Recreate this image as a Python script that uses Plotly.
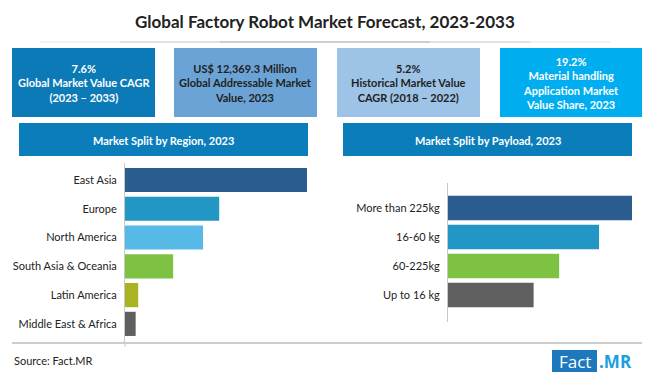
import plotly.graph_objects as go

W, H = 650, 377

title_text = "Global Factory Robot Market Forecast, 2023-2033"
kpi_texts = [
    "7.6%<br>Global Market Value CAGR<br>(2023 – 2033)",
    "US$ 12,369.3 Million<br>Global Addressable Market<br>Value, 2023",
    "5.2%<br>Historical Market Value<br>CAGR (2018 – 2022)",
    "19.2%<br>Material handling<br>Application Market<br>Value Share, 2023",
]
kpi_fill = ["#0B7AB6", "#6BA3D6", "#9DC3E6", "#00AEEF"]
kpi_font = ["#FFFFFF", "#1F1F1F", "#1F1F1F", "#FFFFFF"]

region_cats = ["East Asia", "Europe", "North America", "South Asia & Oceania",
               "Latin America", "Middle East & Africa"]
region_vals = [42.7, 22.1, 18.3, 11.3, 3.1, 2.5]
region_colors = ["#2B5C8F", "#2297C5", "#56B9E6", "#7DC242", "#AAB322", "#5F5F5F"]

payload_cats = ["More than 225kg", "16-60 kg", "60-225kg", "Up to 16 kg"]
payload_vals = [34.6, 28.4, 20.9, 16.1]
payload_colors = ["#2B5C8F", "#2297C5", "#7DC242", "#5F5F5F"]

header_left = "Market Split by Region, 2023"
header_right = "Market Split by Payload, 2023"
source_text = "Source: Fact.MR"


def px(x):
    return x / W


def py(y):
    return 1 - y / H


FONT = "Lato"

fig = go.Figure()
fig.add_trace(go.Bar(
    y=region_cats, x=region_vals, orientation="h",
    marker=dict(color=region_colors, line=dict(width=0)),
    xaxis="x", yaxis="y", hoverinfo="x+y",
))
fig.add_trace(go.Bar(
    y=payload_cats, x=payload_vals, orientation="h",
    marker=dict(color=payload_colors, line=dict(width=0)),
    xaxis="x2", yaxis="y2", hoverinfo="x+y",
))

shapes = []
annotations = []

# title
annotations.append(dict(x=0.5, y=py(22), xref="paper", yref="paper",
                        text="<b>" + title_text + "</b>", showarrow=False,
                        font=dict(family=FONT, size=17, color="#222222"),
                        xanchor="center", yanchor="middle"))
# title underline (soft gradient look)
for x0, x1, c in [(40, 610, "#E6E6E6"), (120, 530, "#D0D0D0"), (220, 430, "#B8B8B8")]:
    shapes.append(dict(type="line", xref="paper", yref="paper",
                       x0=px(x0), x1=px(x1), y0=py(42), y1=py(42),
                       line=dict(color=c, width=1)))

# KPI boxes
box_x = [(12, 155), (174, 317), (337, 480), (500, 642)]
for (x0, x1), t, f, fc in zip(box_x, kpi_texts, kpi_fill, kpi_font):
    shapes.append(dict(type="rect", xref="paper", yref="paper",
                       x0=px(x0), x1=px(x1), y0=py(117), y1=py(48),
                       fillcolor=f, line=dict(width=0), layer="below"))
    annotations.append(dict(x=px((x0 + x1) / 2), y=py(82.5), xref="paper", yref="paper",
                            text="<b>" + t + "</b>", showarrow=False,
                            font=dict(family=FONT, size=11, color=fc),
                            xanchor="center", yanchor="middle", align="center"))

# section headers
for (x0, x1), t in [((19, 308), header_left), ((343, 632), header_right)]:
    shapes.append(dict(type="rect", xref="paper", yref="paper",
                       x0=px(x0), x1=px(x1), y0=py(156), y1=py(123),
                       fillcolor="#0B7DBB", line=dict(width=0), layer="below"))
    annotations.append(dict(x=px((x0 + x1) / 2), y=py(140), xref="paper", yref="paper",
                            text="<b>" + t + "</b>", showarrow=False,
                            font=dict(family=FONT, size=11, color="#FFFFFF"),
                            xanchor="center", yanchor="middle"))

# bottom rule
shapes.append(dict(type="line", xref="paper", yref="paper",
                   x0=px(12), x1=px(642), y0=py(343), y1=py(343),
                   line=dict(color="#9A9A9A", width=1.2)))
shapes.append(dict(type="line", xref="paper", yref="paper",
                   x0=px(125), x1=px(125), y0=py(343), y1=py(347),
                   line=dict(color="#C8C8C8", width=1)))

# source
annotations.append(dict(x=px(12), y=py(360), xref="paper", yref="paper",
                        text=source_text, showarrow=False,
                        font=dict(family=FONT, size=11, color="#222222"),
                        xanchor="left", yanchor="middle"))
# logo
shapes.append(dict(type="rect", xref="paper", yref="paper",
                   x0=px(552), x1=px(597), y0=py(372), y1=py(350),
                   fillcolor="#1E78BE", line=dict(width=0)))
annotations.append(dict(x=px(574.5), y=py(361.5), xref="paper", yref="paper",
                        text="Fact", showarrow=False,
                        font=dict(family="Open Sans", size=17, color="#FFFFFF"),
                        xanchor="center", yanchor="middle"))
annotations.append(dict(x=px(597), y=py(361.5), xref="paper", yref="paper",
                        text="<b>.MR</b>", showarrow=False,
                        font=dict(family="Open Sans", size=17, color="#1AA0E0"),
                        xanchor="left", yanchor="middle"))

axis_common = dict(showgrid=False, zeroline=False, showticklabels=False, fixedrange=True)

fig.update_layout(
    width=W, height=H,
    margin=dict(l=0, r=0, t=0, b=0),
    paper_bgcolor="#FFFFFF", plot_bgcolor="rgba(0,0,0,0)",
    showlegend=False,
    bargap=0.16,
    shapes=shapes, annotations=annotations,
    xaxis=dict(domain=[px(125), px(307)], range=[0, region_vals[0]], anchor="y", **axis_common),
    yaxis=dict(domain=[py(342), py(163)], range=[5.63, -0.59], type="category",
               showline=True, linecolor="#C8C8C8", linewidth=1, ticks="",
               showgrid=False, zeroline=False, anchor="x", ticklabelstandoff=5,
               tickfont=dict(family=FONT, size=11, color="#222222")),
    xaxis2=dict(domain=[px(448), px(632)], range=[0, payload_vals[0]], anchor="y2", **axis_common),
    yaxis2=dict(domain=[py(322), py(183)], range=[3.93, -0.86], type="category",
                showline=True, linecolor="#C8C8C8", linewidth=1, ticks="",
                showgrid=False, zeroline=False, anchor="x2", ticklabelstandoff=5,
                tickfont=dict(family=FONT, size=11, color="#222222")),
)

fig.write_html("out.html", config={"displayModeBar": False},
               post_script="document.body.style.margin='0';document.body.style.overflow='hidden';")
